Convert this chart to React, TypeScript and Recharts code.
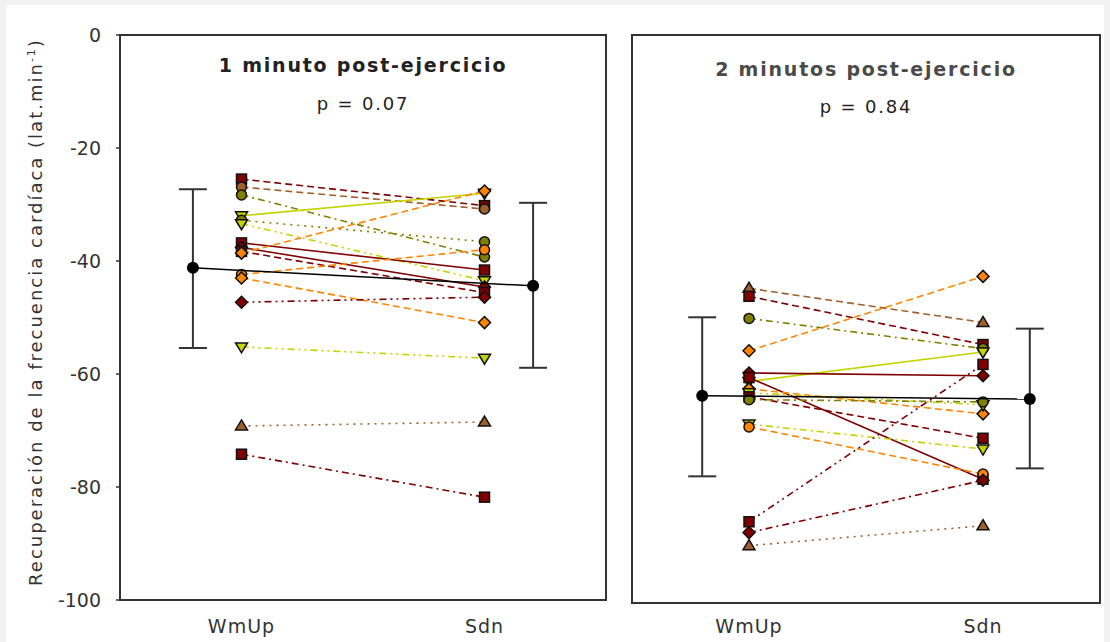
import React from 'react'
import {
  ScatterChart,
  Scatter,
  XAxis,
  YAxis,
  ReferenceArea,
  ErrorBar,
} from 'recharts'

// x categories and y ticks
const X_TICKS = [0.25, 0.75]
const X_LABELS = ['WmUp', 'Sdn']
const Y_TICKS = [0, -20, -40, -60, -80, -100]

// 1 minuto post-ejercicio (individual subjects)
const wmUp1 = [-25.5, -26.9, -28.3, -32.0, -32.8, -33.4, -36.8, -37.6, -38.3, -38.6, -42.4, -43.0, -47.3, -55.2, -69.2, -74.2]
const sdn1 = [-30.2, -30.8, -39.3, -28.0, -36.6, -43.5, -41.6, -44.6, -45.6, -27.6, -38.0, -50.9, -46.4, -57.2, -68.5, -81.8]

// 2 minutos post-ejercicio (individual subjects)
const wmUp2 = [-44.6, -46.0, -49.9, -55.6, -61.0, -59.5, -60.3, -62.3, -63.0, -63.7, -64.2, -68.5, -69.0, -85.7, -87.6, -89.9]
const sdn2 = [-50.6, -54.5, -55.2, -42.5, -55.8, -60.0, -78.2, -66.7, -65.1, -71.0, -64.6, -72.9, -77.3, -58.0, -78.4, -86.4]

// group means with error bars [below, above]
const meanX = [0.15, 0.85]
const mean1 = [-41.2, -44.4]
const err1 = [[14.2, 13.9], [14.5, 14.7]]
const mean2 = [-63.5, -64.1]
const err2 = [[14.2, 13.8], [12.2, 12.4]]

const DARKRED = '#7f0000'
const BROWN = '#a0602a'
const OLIVE = '#808000'
const YGREEN = '#c4d400'
const ORANGE = '#ff8400'

const DASH: Record<string, string> = {
  solid: '',
  dashed: '7 4',
  dashdot: '7 4 2 4',
  dashdotdot: '7 4 2 4 2 4',
  dotted: '2 5',
}

type Style = { color: string; dash: string; shape: string }

const style1: Style[] = [
  { color: DARKRED, dash: 'dashed', shape: 'square' },
  { color: BROWN, dash: 'dashed', shape: 'circle' },
  { color: OLIVE, dash: 'dashdot', shape: 'circle' },
  { color: YGREEN, dash: 'solid', shape: 'down' },
  { color: OLIVE, dash: 'dotted', shape: 'circle' },
  { color: YGREEN, dash: 'dashdotdot', shape: 'down' },
  { color: DARKRED, dash: 'solid', shape: 'square' },
  { color: DARKRED, dash: 'solid', shape: 'diamond' },
  { color: DARKRED, dash: 'dashed', shape: 'square' },
  { color: ORANGE, dash: 'dashed', shape: 'diamond' },
  { color: ORANGE, dash: 'dashed', shape: 'circle' },
  { color: ORANGE, dash: 'dashed', shape: 'diamond' },
  { color: DARKRED, dash: 'dashdotdot', shape: 'diamond' },
  { color: YGREEN, dash: 'dashdotdot', shape: 'down' },
  { color: BROWN, dash: 'dotted', shape: 'triangle' },
  { color: DARKRED, dash: 'dashdot', shape: 'square' },
]

const style2: Style[] = [
  { color: BROWN, dash: 'dashed', shape: 'triangle' },
  { color: DARKRED, dash: 'dashed', shape: 'square' },
  { color: OLIVE, dash: 'dashdot', shape: 'circle' },
  { color: ORANGE, dash: 'dashed', shape: 'diamond' },
  { color: YGREEN, dash: 'solid', shape: 'down' },
  { color: DARKRED, dash: 'solid', shape: 'diamond' },
  { color: DARKRED, dash: 'solid', shape: 'square' },
  { color: ORANGE, dash: 'dashed', shape: 'diamond' },
  { color: YGREEN, dash: 'dashdotdot', shape: 'down' },
  { color: DARKRED, dash: 'dashed', shape: 'square' },
  { color: OLIVE, dash: 'dashdot', shape: 'circle' },
  { color: YGREEN, dash: 'dashdot', shape: 'down' },
  { color: ORANGE, dash: 'dashed', shape: 'circle' },
  { color: DARKRED, dash: 'dashdotdot', shape: 'square' },
  { color: DARKRED, dash: 'dashdot', shape: 'diamond' },
  { color: BROWN, dash: 'dotted', shape: 'triangle' },
]

const FONT = '"DejaVu Sans", Verdana, sans-serif'

interface MarkerProps {
  cx?: number
  cy?: number
  fill: string
  kind: string
}

function Marker({ cx, cy, fill, kind }: MarkerProps) {
  if (cx == null || cy == null) return null
  const s = 5
  const common = { fill, stroke: '#111', strokeWidth: 1.5 }
  if (kind === 'square') {
    return <rect x={cx - s} y={cy - s} width={2 * s} height={2 * s} {...common} />
  }
  if (kind === 'diamond') {
    return <polygon points={`${cx},${cy - s - 1} ${cx + s + 1},${cy} ${cx},${cy + s + 1} ${cx - s - 1},${cy}`} {...common} />
  }
  if (kind === 'triangle') {
    return <polygon points={`${cx},${cy - s - 1} ${cx + s + 1},${cy + s - 1} ${cx - s - 1},${cy + s - 1}`} {...common} />
  }
  if (kind === 'down') {
    return <polygon points={`${cx - s - 1},${cy - s + 1} ${cx + s + 1},${cy - s + 1} ${cx},${cy + s + 1}`} {...common} />
  }
  return <circle cx={cx} cy={cy} r={s} {...common} />
}

function MeanDot(props: { cx?: number; cy?: number }) {
  const { cx, cy } = props
  if (cx == null || cy == null) return null
  return <circle cx={cx} cy={cy} r={6} fill="#000" />
}

interface PanelProps {
  wm: number[]
  sd: number[]
  styles: Style[]
  means: number[]
  errs: number[][]
  showY: boolean
  width: number
  height: number
  margin: { top: number; right: number; bottom: number; left: number }
  tickMargin: number
}

function Panel({ wm, sd, styles, means, errs, showY, width, height, margin, tickMargin }: PanelProps) {
  const meanData = meanX.map((x, i) => ({ x, y: means[i], e: errs[i] }))
  return (
    <ScatterChart width={width} height={height} margin={margin}>
      <XAxis
        type="number"
        dataKey="x"
        domain={[0, 1]}
        ticks={X_TICKS}
        tickFormatter={(v: number) => X_LABELS[X_TICKS.indexOf(v)]}
        axisLine={false}
        tickLine={false}
        tickMargin={tickMargin}
        tick={{ fontSize: 19, fill: '#333', fontFamily: FONT, letterSpacing: 1 }}
        height={30}
      />
      <YAxis
        type="number"
        dataKey="y"
        domain={[-100, 0]}
        ticks={Y_TICKS}
        hide={!showY}
        width={60}
        axisLine={false}
        tickSize={4}
        tickMargin={15}
        tickLine={{ stroke: '#333', strokeWidth: 1.5 }}
        tick={{ fontSize: 19, fill: '#333', fontFamily: FONT }}
        allowDataOverflow
      />
      <ReferenceArea x1={0} x2={1} y1={-100} y2={0} fill="#fff" fillOpacity={0} stroke="#333" strokeWidth={2} />
      {wm.map((w, i) => {
        const st = styles[i]
        return (
          <Scatter
            key={i}
            data={[{ x: X_TICKS[0], y: w }, { x: X_TICKS[1], y: sd[i] }]}
            fill={st.color}
            line={{ stroke: st.color, strokeWidth: 1.6, strokeDasharray: DASH[st.dash] }}
            shape={(p: any) => <Marker cx={p.cx} cy={p.cy} fill={st.color} kind={st.shape} />}
            isAnimationActive={false}
          />
        )
      })}
      <Scatter
        data={meanData}
        fill="#000"
        line={{ stroke: '#000', strokeWidth: 1.5 }}
        shape={(p: any) => <MeanDot cx={p.cx} cy={p.cy} />}
        isAnimationActive={false}
      >
        <ErrorBar dataKey="e" direction="y" width={14} stroke="#333" strokeWidth={2} />
      </Scatter>
    </ScatterChart>
  )
}

export default function App() {
  return (
    <div
      style={{
        position: 'absolute',
        left: 0,
        top: 0,
        width: 1110,
        height: 642,
        background: '#f2f2f2',
        fontFamily: FONT,
        overflow: 'hidden',
      }}
    >
      <div style={{ position: 'absolute', left: 6, top: 5, width: 1098, height: 642, background: '#fff' }} />
      <div style={{ position: 'absolute', left: 0, top: 0 }}>
        <Panel
          wm={wmUp1}
          sd={sdn1}
          styles={style1}
          means={mean1}
          errs={err1}
          showY
          width={620}
          height={642}
          margin={{ top: 35, right: 14, bottom: 12, left: 60 }}
          tickMargin={14}
        />
      </div>
      <div style={{ position: 'absolute', left: 620, top: 0 }}>
        <Panel
          wm={wmUp2}
          sd={sdn2}
          styles={style2}
          means={mean2}
          errs={err2}
          showY={false}
          width={490}
          height={642}
          margin={{ top: 35, right: 10, bottom: 9, left: 12 }}
          tickMargin={11}
        />
      </div>
      <div style={{ position: 'absolute', left: 120, width: 486, top: 54, textAlign: 'center', fontWeight: 'bold', fontSize: 19, letterSpacing: 1.8, color: '#222' }}>
        1 minuto post-ejercicio
      </div>
      <div style={{ position: 'absolute', left: 120, width: 486, top: 93, textAlign: 'center', fontSize: 18, letterSpacing: 1.8, color: '#222' }}>
        p = 0.07
      </div>
      <div style={{ position: 'absolute', left: 632, width: 468, top: 58, textAlign: 'center', fontWeight: 'bold', fontSize: 19, letterSpacing: 1.8, color: '#4a4a4a' }}>
        2 minutos post-ejercicio
      </div>
      <div style={{ position: 'absolute', left: 632, width: 468, top: 96, textAlign: 'center', fontSize: 18, letterSpacing: 1.8, color: '#222' }}>
        p = 0.84
      </div>
      <div
        style={{
          position: 'absolute',
          left: 35,
          top: 312,
          transform: 'translate(-50%, -50%) rotate(-90deg)',
          whiteSpace: 'nowrap',
          fontSize: 18,
          letterSpacing: 2,
          color: '#333',
        }}
      >
        Recuperación de la frecuencia cardíaca (lat.min<sup style={{ fontSize: 11 }}>-1</sup>)
      </div>
    </div>
  )
}
